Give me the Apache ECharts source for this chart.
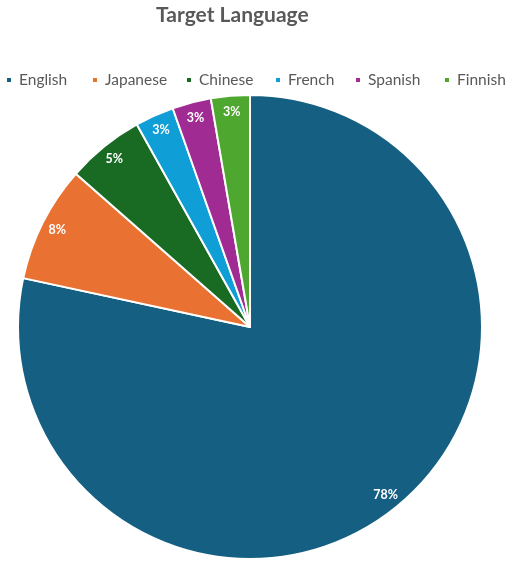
<!DOCTYPE html>
<html>
<head>
<meta charset="utf-8">
<script src="https://cdn.jsdelivr.net/npm/echarts@6/dist/echarts.min.js"></script>
<style>html,body{margin:0;padding:0;background:#fff}#c{width:505px;height:562px}</style>
</head>
<body>
<div id="c"></div>
<script>
const categories = ['English', 'Japanese', 'Chinese', 'French', 'Spanish', 'Finnish'];
const counts = [29, 3, 2, 1, 1, 1];
const colors = ['#156082', '#E97132', '#196B24', '#0F9ED5', '#A02B93', '#4EA72E'];

const total = counts.reduce((a, b) => a + b, 0);
const data = categories.map((n, i) => ({ name: n, value: counts[i], itemStyle: { color: colors[i] } }));
const chart = echarts.init(document.getElementById('c'), null, { renderer: 'canvas' });
const font = 'Lato, "Noto Sans", sans-serif';
const legendX = [5, 91, 185, 274, 354, 443];
chart.setOption({
  animation: false,
  title: {
    text: 'Target Language', left: 151, top: 0,
    textStyle: { fontSize: 21, fontWeight: 'bold', color: '#595959', fontFamily: font }
  },
  legend: categories.map((n, i) => ({
    data: [{ name: n, itemStyle: { color: colors[i] } }],
    left: legendX[i], top: 72, icon: 'rect', itemWidth: 6, itemHeight: 6,
    textStyle: { fontSize: 15.5, color: '#595959', fontFamily: font, padding: [0, 0, 0, 2] },
    selectedMode: false, padding: 0
  })),
  series: [
    {
      type: 'pie', center: [250, 327], radius: [0, 232], startAngle: 90, clockwise: true,
      data: data, label: { show: false }, labelLine: { show: false },
      itemStyle: { borderColor: '#fff', borderWidth: 2 }, silent: true
    },
    {
      type: 'pie', center: [250, 327], radius: [194, 232], startAngle: 90, clockwise: true,
      data: categories.map((n, i) => ({ name: n, value: counts[i] })),
      itemStyle: { color: 'rgba(0,0,0,0)', borderWidth: 0 }, silent: true,
      label: {
        show: true, position: 'inside', color: '#fff', fontWeight: 'bold', fontSize: 12.5, fontFamily: font,
        formatter: p => Math.round(p.value / total * 100) + '%'
      },
      labelLine: { show: false }
    }
  ]
});
</script>
</body>
</html>
